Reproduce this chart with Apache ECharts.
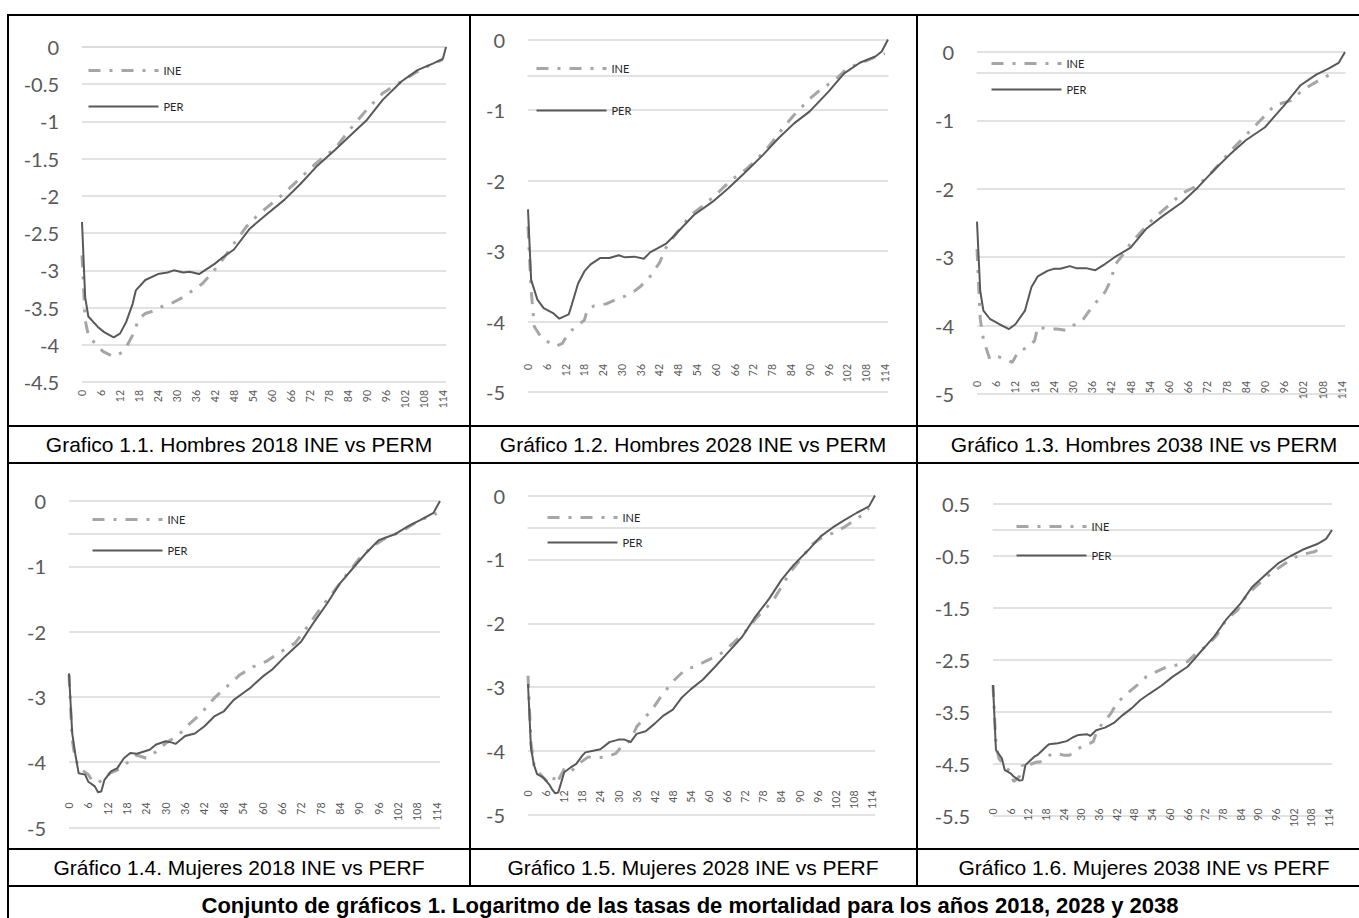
<!DOCTYPE html>
<html><head><meta charset="utf-8">
<script src="https://cdn.jsdelivr.net/npm/echarts@6/dist/echarts.min.js"></script>
<style>html,body{margin:0;padding:0;background:#fff;}#c{width:1359px;height:918px;}</style>
</head><body><div id="c"></div>
<script>
// ---- categories (age) ----
const ages = Array.from({length: 116}, (_, i) => String(i));

// ---- data: [age, log mortality rate] ----
const h2018_ine = [[0,-2.8],[1,-3.67],[2,-3.87],[5,-4.03],[7,-4.10],[10,-4.16],[12,-4.12],[14,-4.03],[16,-3.87],[18,-3.65],[20,-3.58],[23,-3.54],[26,-3.47],[28,-3.45],[32,-3.36],[35,-3.27],[38,-3.18],[41,-3.04],[44,-2.88],[48,-2.64],[52,-2.41],[55,-2.28],[58,-2.17],[64,-1.96],[69,-1.76],[74,-1.56],[80,-1.36],[85,-1.09],[90,-0.84],[95,-0.62],[101,-0.46],[106,-0.33],[111,-0.22],[114,-0.17]];
const h2018_per = [[0,-2.35],[1,-3.36],[2,-3.62],[5,-3.76],[7,-3.83],[10,-3.90],[12,-3.85],[14,-3.69],[16,-3.45],[17,-3.27],[20,-3.13],[24,-3.05],[27,-3.03],[29,-3.00],[32,-3.03],[34,-3.02],[37,-3.05],[42,-2.91],[44,-2.84],[48,-2.72],[53,-2.44],[58,-2.26],[64,-2.05],[69,-1.84],[74,-1.61],[80,-1.38],[85,-1.18],[90,-0.98],[95,-0.71],[101,-0.46],[106,-0.31],[111,-0.22],[114,-0.16],[115,0]];

const h2028_ine = [[0,-2.65],[1,-3.55],[2,-4.07],[4,-4.21],[6,-4.28],[9,-4.35],[11,-4.31],[13,-4.16],[16,-4.05],[18,-3.98],[19,-3.83],[21,-3.78],[25,-3.75],[28,-3.69],[31,-3.64],[34,-3.57],[36,-3.50],[39,-3.36],[42,-3.17],[44,-2.96],[47,-2.77],[52,-2.49],[57,-2.32],[61,-2.16],[65,-1.99],[70,-1.83],[76,-1.57],[81,-1.28],[85,-1.07],[90,-0.84],[94,-0.69],[98,-0.58],[102,-0.41],[107,-0.32],[111,-0.25],[114,-0.2]];
const h2028_per = [[0,-2.41],[1,-3.41],[3,-3.69],[5,-3.81],[8,-3.88],[10,-3.96],[13,-3.90],[14,-3.76],[16,-3.46],[18,-3.29],[20,-3.19],[23,-3.10],[26,-3.10],[29,-3.06],[31,-3.09],[34,-3.08],[37,-3.11],[39,-3.02],[44,-2.90],[47,-2.77],[53,-2.49],[59,-2.30],[64,-2.11],[69,-1.90],[75,-1.64],[80,-1.40],[85,-1.19],[90,-1.02],[96,-0.74],[101,-0.48],[106,-0.33],[111,-0.24],[113,-0.17],[115,0]];

const h2038_ine = [[0,-2.88],[1,-3.9],[2,-4.2],[3,-4.35],[4,-4.49],[7,-4.46],[9,-4.49],[11,-4.54],[13,-4.37],[16,-4.32],[18,-4.22],[19,-4.02],[22,-4.05],[25,-4.05],[28,-4.07],[30,-4.00],[33,-3.92],[35,-3.79],[37,-3.67],[40,-3.51],[42,-3.32],[43,-3.12],[45,-3.00],[48,-2.80],[52,-2.59],[55,-2.44],[60,-2.24],[64,-2.07],[69,-1.95],[74,-1.73],[79,-1.46],[85,-1.17],[90,-0.93],[93,-0.78],[98,-0.71],[102,-0.55],[107,-0.41],[112,-0.29]];
const h2038_per = [[0,-2.48],[1,-3.49],[2,-3.78],[4,-3.90],[7,-3.98],[10,-4.05],[12,-3.98],[15,-3.78],[17,-3.44],[19,-3.28],[22,-3.20],[24,-3.17],[26,-3.17],[29,-3.13],[31,-3.16],[34,-3.16],[37,-3.19],[40,-3.10],[43,-3.00],[48,-2.86],[53,-2.58],[58,-2.40],[64,-2.20],[69,-1.98],[74,-1.73],[79,-1.50],[84,-1.29],[90,-1.10],[96,-0.78],[101,-0.49],[106,-0.33],[110,-0.24],[113,-0.16],[115,0]];

const m2018_ine = [[0,-2.66],[1,-3.66],[2,-3.97],[4,-4.12],[6,-4.19],[7,-4.27],[9,-4.32],[11,-4.24],[13,-4.16],[15,-4.12],[18,-4.01],[21,-3.89],[24,-3.94],[27,-3.84],[30,-3.71],[34,-3.58],[37,-3.43],[41,-3.25],[45,-3.02],[49,-2.84],[53,-2.66],[57,-2.54],[61,-2.46],[65,-2.33],[70,-2.18],[74,-1.92],[78,-1.64],[82,-1.39],[86,-1.13],[90,-0.88],[94,-0.70],[98,-0.57],[103,-0.47],[108,-0.31],[114,-0.19]];
const m2018_per = [[0,-2.64],[1,-3.56],[2,-3.89],[3,-4.17],[5,-4.19],[6,-4.30],[8,-4.37],[9,-4.46],[10,-4.45],[11,-4.27],[13,-4.14],[15,-4.09],[17,-3.94],[19,-3.86],[21,-3.87],[25,-3.81],[27,-3.73],[30,-3.68],[32,-3.70],[33,-3.72],[36,-3.60],[39,-3.56],[42,-3.45],[45,-3.30],[48,-3.22],[51,-3.05],[54,-2.94],[56,-2.87],[60,-2.69],[63,-2.58],[67,-2.38],[72,-2.15],[76,-1.85],[80,-1.57],[84,-1.26],[88,-1.03],[92,-0.80],[96,-0.60],[101,-0.51],[105,-0.39],[109,-0.29],[113,-0.18],[115,0]];

const m2028_ine = [[0,-2.82],[1,-3.88],[2,-4.22],[4,-4.36],[6,-4.46],[8,-4.51],[9,-4.38],[10,-4.46],[12,-4.28],[14,-4.33],[17,-4.19],[20,-4.09],[22,-4.11],[26,-4.09],[29,-4.04],[31,-3.93],[34,-3.83],[36,-3.62],[38,-3.51],[41,-3.36],[44,-3.15],[48,-2.91],[52,-2.73],[55,-2.68],[60,-2.57],[64,-2.47],[68,-2.31],[72,-2.13],[76,-1.90],[81,-1.66],[84,-1.43],[87,-1.19],[91,-0.96],[94,-0.77],[97,-0.67],[101,-0.59],[105,-0.49],[111,-0.30],[113,-0.20]];
const m2028_per = [[0,-2.95],[1,-3.96],[2,-4.22],[3,-4.36],[5,-4.41],[7,-4.52],[8,-4.60],[9,-4.66],[10,-4.65],[11,-4.49],[12,-4.33],[14,-4.26],[16,-4.20],[18,-4.07],[19,-4.02],[22,-3.99],[24,-3.97],[27,-3.86],[30,-3.82],[32,-3.82],[34,-3.86],[36,-3.73],[39,-3.69],[42,-3.57],[45,-3.44],[48,-3.35],[51,-3.16],[54,-3.03],[58,-2.88],[62,-2.68],[66,-2.47],[71,-2.21],[75,-1.92],[80,-1.61],[84,-1.32],[88,-1.09],[93,-0.85],[97,-0.64],[101,-0.50],[105,-0.38],[109,-0.27],[113,-0.17],[115,0]];

const m2038_ine = [[0,-2.98],[1,-4.13],[2,-4.39],[4,-4.55],[6,-4.65],[7,-4.84],[9,-4.74],[10,-4.52],[11,-4.58],[13,-4.50],[15,-4.46],[16,-4.46],[18,-4.36],[21,-4.29],[24,-4.33],[26,-4.33],[29,-4.20],[33,-4.10],[34,-4.07],[35,-3.91],[37,-3.72],[40,-3.53],[42,-3.33],[45,-3.17],[49,-2.98],[52,-2.82],[56,-2.71],[59,-2.63],[62,-2.60],[66,-2.53],[69,-2.37],[73,-2.21],[76,-2.02],[79,-1.73],[83,-1.54],[86,-1.25],[91,-0.99],[95,-0.80],[100,-0.61],[104,-0.48],[109,-0.42],[112,-0.32]];
const m2038_per = [[0,-2.98],[1,-4.23],[3,-4.39],[4,-4.62],[6,-4.68],[7,-4.74],[9,-4.82],[10,-4.81],[11,-4.52],[14,-4.36],[15,-4.33],[18,-4.17],[19,-4.12],[22,-4.10],[25,-4.06],[27,-3.99],[29,-3.94],[32,-3.93],[33,-3.96],[35,-3.85],[38,-3.80],[41,-3.71],[44,-3.56],[47,-3.43],[50,-3.27],[53,-3.15],[57,-3.00],[61,-2.82],[66,-2.63],[70,-2.37],[75,-2.05],[79,-1.73],[84,-1.41],[88,-1.09],[93,-0.83],[97,-0.63],[101,-0.50],[105,-0.38],[110,-0.27],[113,-0.17],[115,0]];

const seriesNames = ['INE', 'PER'];
const captions = [
  'Grafico 1.1. Hombres 2018 INE vs PERM',
  'Gráfico 1.2. Hombres 2028 INE vs PERM',
  'Gráfico 1.3. Hombres 2038 INE vs PERM',
  'Gráfico 1.4. Mujeres 2018 INE vs PERF',
  'Gráfico 1.5. Mujeres 2028 INE vs PERF',
  'Gráfico 1.6. Mujeres 2038 INE vs PERF'
];
const mainCaption = 'Conjunto de gráficos 1. Logaritmo de las tasas de mortalidad para los años 2018, 2028 y 2038';

// ---- layout (positions / styles) ----
const panels = [
  {ine: h2018_ine, per: h2018_per, yMin: -4.5, yMax: 0,   yInt: 0.5, grid: {left: 82,  top: 47,    width: 364, height: 335},   xOffset: 0,     legend: {left: 87,   top: 65,  gap: 25}, cap: {x: 239, y: 444}},
  {ine: h2028_ine, per: h2028_per, yMin: -5,   yMax: 0,   yInt: 1,   grid: {left: 528, top: 39.5,  width: 360, height: 352.5}, xOffset: -36,   legend: {left: 535,  top: 63,  gap: 31}, cap: {x: 693, y: 444}},
  {ine: h2038_ine, per: h2038_per, yMin: -5,   yMax: 0,   yInt: 1,   grid: {left: 977, top: 52,    width: 368, height: 342},   xOffset: -21,   legend: {left: 990,  top: 58,  gap: 15}, cap: {x: 1144, y: 444}},
  {ine: m2018_ine, per: m2018_per, yMin: -5,   yMax: 0,   yInt: 1,   grid: {left: 69,  top: 501,   width: 371, height: 326.5}, xOffset: -33,   legend: {left: 91,   top: 514, gap: 20}, cap: {x: 239, y: 867}},
  {ine: m2028_ine, per: m2028_per, yMin: -5,   yMax: 0,   yInt: 1,   grid: {left: 528, top: 495.5, width: 347, height: 319.5}, xOffset: -32.5, legend: {left: 546,  top: 512, gap: 14}, cap: {x: 693, y: 867}},
  {ine: m2038_ine, per: m2038_per, yMin: -5.5, yMax: 0.5, yInt: 1,   grid: {left: 993, top: 504,   width: 339, height: 312},   xOffset: -15.5, legend: {left: 1015, top: 521, gap: 18}, cap: {x: 1144, y: 867}}
];
const hLines = [15, 426, 463, 849, 886];
const vInner = [470, 917];

const gray = '#595959', light = '#d9d9d9', ineColor = '#a6a6a6';
const ineDash = [12, 9, 3, 9];

const graphics = [];
hLines.forEach(y => graphics.push({type: 'line', shape: {x1: 7, y1: y, x2: 1359, y2: y}, style: {stroke: '#000', lineWidth: 2}, z: 100}));
graphics.push({type: 'line', shape: {x1: 8, y1: 14, x2: 8, y2: 918}, style: {stroke: '#000', lineWidth: 2}, z: 100});
vInner.forEach(x => graphics.push({type: 'line', shape: {x1: x, y1: 14, x2: x, y2: 887}, style: {stroke: '#000', lineWidth: 2}, z: 100}));

const titles = panels.map((p, i) => ({
  text: captions[i], left: p.cap.x, top: p.cap.y, textAlign: 'center', textVerticalAlign: 'middle', padding: 0,
  textStyle: {fontFamily: '"Liberation Sans", Arial, sans-serif', fontSize: 21, fontWeight: 'normal', color: '#000'}
}));
titles.push({text: mainCaption, left: 690, top: 905, textAlign: 'center', textVerticalAlign: 'middle', padding: 0,
  textStyle: {fontFamily: '"Liberation Sans", Arial, sans-serif', fontSize: 22, fontWeight: 'bold', color: '#000'}});

const legendData = [
  {name: seriesNames[0], itemStyle: {opacity: 0, borderWidth: 0}, lineStyle: {color: ineColor, width: 3, type: ineDash, cap: 'butt', opacity: 1}},
  {name: seriesNames[1], itemStyle: {opacity: 0, borderWidth: 0}, lineStyle: {color: gray, width: 2, type: 'solid', opacity: 1}}
];

const option = {
  animation: false,
  backgroundColor: '#fff',
  title: titles,
  grid: panels.map(p => Object.assign({containLabel: false}, p.grid)),
  xAxis: panels.map((p, i) => ({
    type: 'category', gridIndex: i, data: ages, boundaryGap: false, offset: p.xOffset,
    axisLine: {lineStyle: {color: light, width: 1.5}}, axisTick: {show: false},
    axisLabel: {interval: 5, rotate: 90, fontFamily: 'Lato', fontSize: 10.5, color: gray, margin: 8},
    splitLine: {show: false}
  })),
  yAxis: panels.map((p, i) => ({
    type: 'value', gridIndex: i, min: p.yMin, max: p.yMax, interval: p.yInt,
    axisLine: {show: false}, axisTick: {show: false},
    axisLabel: {fontFamily: 'Lato', fontSize: 20, color: gray, margin: 23},
    splitLine: {lineStyle: {color: light, width: 1.5}}
  })),
  legend: panels.map(p => ({
    left: p.legend.left, top: p.legend.top, orient: 'vertical', itemGap: p.legend.gap,
    itemWidth: 70, itemHeight: 10, padding: 0, data: legendData, selectedMode: false,
    itemStyle: {opacity: 0, borderWidth: 0},
    textStyle: {fontFamily: 'Lato', fontSize: 11, color: '#262626'}
  })),
  series: panels.flatMap((p, i) => [
    {name: seriesNames[0], type: 'line', xAxisIndex: i, yAxisIndex: i, data: p.ine, symbol: 'none', showSymbol: false, z: 2,
     lineStyle: {color: ineColor, width: 3, type: ineDash, cap: 'butt'}, itemStyle: {color: ineColor}},
    {name: seriesNames[1], type: 'line', xAxisIndex: i, yAxisIndex: i, data: p.per, symbol: 'none', showSymbol: false, z: 3,
     lineStyle: {color: gray, width: 2}, itemStyle: {color: gray}}
  ]),
  graphic: graphics
};

const chart = echarts.init(document.getElementById('c'), null, {renderer: 'svg'});
chart.setOption(option);
</script>
</body></html>
